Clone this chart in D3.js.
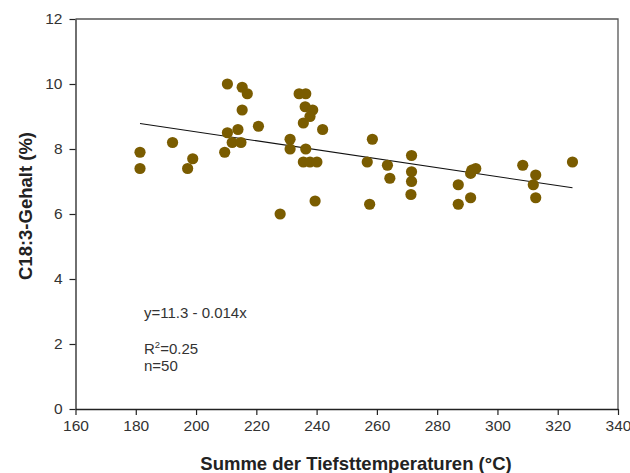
<!DOCTYPE html>
<html>
<head>
<meta charset="utf-8">
<script src="https://cdn.jsdelivr.net/npm/d3@7"></script>
<style>
  html, body { margin: 0; padding: 0; background: #fff; }
  svg { display: block; }
</style>
</head>
<body>
<svg id="chart" width="630" height="473"></svg>
<script>
// ---- data ----
const xValues = [181.4, 181.4, 192.2, 197.2, 198.9, 209.5, 210.4, 210.4, 212.0, 213.9,
                 214.9, 215.3, 215.3, 217.0, 220.7, 227.9, 231.2, 231.2, 234.2, 236.4,
                 236.2, 235.6, 236.4, 235.6, 237.8, 238.7, 237.8, 239.5, 240.1, 242.0,
                 258.5, 256.8, 257.6, 263.5, 264.3, 271.5, 271.5, 271.5, 271.3, 287.0,
                 287.0, 291.1, 292.8, 291.5, 291.1, 308.4, 312.7, 311.9, 312.7, 324.9];
const yValues = [7.9, 7.4, 8.2, 7.4, 7.7, 7.9, 10.0, 8.5, 8.2, 8.6,
                 8.2, 9.2, 9.9, 9.7, 8.7, 6.0, 8.3, 8.0, 9.7, 9.7,
                 9.3, 8.8, 8.0, 7.6, 7.6, 9.2, 9.0, 6.4, 7.6, 8.6,
                 8.3, 7.6, 6.3, 7.5, 7.1, 7.8, 7.3, 7.0, 6.6, 6.9,
                 6.3, 7.25, 7.4, 7.35, 6.5, 7.5, 7.2, 6.9, 6.5, 7.6];
const xTicks = [160, 180, 200, 220, 240, 260, 280, 300, 320, 340];
const yTicks = [0, 2, 4, 6, 8, 10, 12];
const trendRange = [181.4, 324.9];
const trendIntercept = 11.29;
const trendSlope = -0.0138;
const annotation = ["y=11.3 - 0.014x", "R²=0.25", "n=50"];
const xTitle = "Summe der Tiefsttemperaturen (°C)";
const yTitle = "C18:3-Gehalt (%)";

// ---- layout ----
const svg = d3.select("#chart");
const mLeft = 75.5, mRight = 618, mTop = 19, mBottom = 409;
const x = d3.scaleLinear().domain([160, 340]).range([mLeft, mRight]);
const y = d3.scaleLinear().domain([0, 12]).range([mBottom, mTop]);
const font = "'Liberation Sans', Arial, Helvetica, sans-serif";
const textCol = "#333";

// frame (top and right)
svg.append("path")
  .attr("d", `M${mLeft},${mTop}H${mRight}V${mBottom}`)
  .attr("fill", "none").attr("stroke", "#555").attr("stroke-width", 1.3);

// axes
const xAxis = d3.axisBottom(x).tickValues(xTicks).tickSize(6).tickSizeOuter(0).tickPadding(5);
const yAxis = d3.axisLeft(y).tickValues(yTicks).tickSize(6).tickSizeOuter(0).tickPadding(7);

const gx = svg.append("g").attr("transform", `translate(0,${mBottom})`).call(xAxis);
const gy = svg.append("g").attr("transform", `translate(${mLeft},0)`).call(yAxis);
[gx, gy].forEach(g => {
  g.select(".domain").attr("stroke", "#222").attr("stroke-width", 1.3);
  g.selectAll(".tick line").attr("stroke", "#222").attr("stroke-width", 1.2);
  g.selectAll(".tick text").attr("fill", textCol).style("font-family", font).style("font-size", "15.5px");
});

// trend line
svg.append("line")
  .attr("x1", x(trendRange[0])).attr("y1", y(trendIntercept + trendSlope * trendRange[0]))
  .attr("x2", x(trendRange[1])).attr("y2", y(trendIntercept + trendSlope * trendRange[1]))
  .attr("stroke", "#111").attr("stroke-width", 1.1);

// points
svg.append("g").selectAll("circle")
  .data(xValues.map((v, i) => [v, yValues[i]]))
  .join("circle")
  .attr("cx", d => x(d[0])).attr("cy", d => y(d[1]))
  .attr("r", 5.6)
  .attr("fill", "#7a5c00");

// annotations
const ann = svg.append("g").style("font-family", font).style("font-size", "15px").attr("fill", textCol);
ann.append("text").attr("x", 144).attr("y", 318).text(annotation[0]);
const r2 = ann.append("text").attr("x", 144).attr("y", 354);
r2.append("tspan").text("R");
r2.append("tspan").attr("dy", -6).style("font-size", "9.5px").text("2");
r2.append("tspan").attr("dy", 6).text("=0.25");
ann.append("text").attr("x", 144).attr("y", 371).text(annotation[2]);

// titles
svg.append("text")
  .attr("x", 356).attr("y", 470).attr("text-anchor", "middle")
  .style("font-family", font).style("font-size", "18.5px").style("font-weight", "bold")
  .attr("fill", "#222").text(xTitle);
svg.append("text")
  .attr("transform", "translate(31.5,206) rotate(-90)").attr("text-anchor", "middle")
  .style("font-family", font).style("font-size", "18.5px").style("font-weight", "bold")
  .attr("fill", "#222").text(yTitle);
</script>
</body>
</html>
